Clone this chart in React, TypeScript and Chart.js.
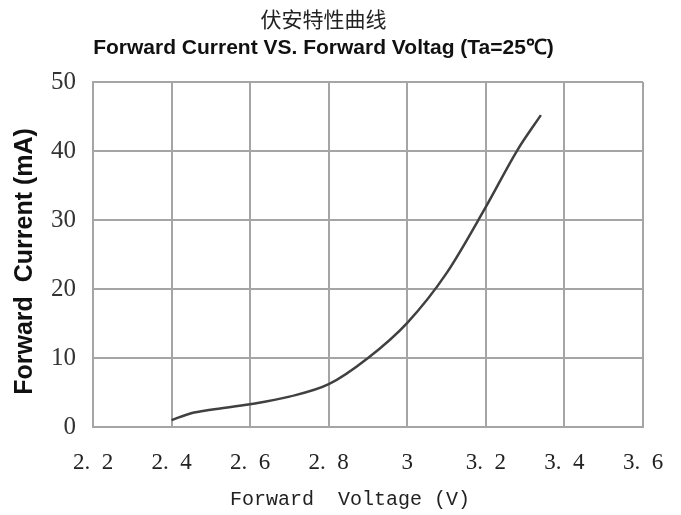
import React, { useEffect, useRef } from "react";
import { Chart, registerables } from "chart.js";

Chart.register(...registerables);

const voltage = [2.4, 2.45, 2.5, 2.6, 2.7, 2.8, 2.9, 3.0, 3.1, 3.2, 3.28, 3.34];
const current = [1.0, 2.0, 2.5, 3.3, 4.4, 6.2, 10.0, 15.1, 22.3, 31.9, 40.1, 45.2];

const xTickValues = [2.2, 2.4, 2.6, 2.8, 3.0, 3.2, 3.4, 3.6];
const xTickLabels = ["2.  2", "2.  4", "2.  6", "2.  8", "3", "3.  2", "3.  4", "3.  6"];
const yTickValues = [0, 10, 20, 30, 40, 50];

const titleCn = "伏安特性曲线";
const titleEn = "Forward Current VS. Forward Voltag (Ta=25℃)";
const xTitle = "Forward  Voltage (V)   ";
const yTitle = "Forward  Current (mA)  ";

export default function App() {
  const ref = useRef<HTMLCanvasElement | null>(null);

  useEffect(() => {
    if (!ref.current) return;
    const gridColor = "rgb(165,165,165)";
    const chart = new Chart(ref.current, {
      type: "line",
      data: {
        datasets: [
          {
            data: voltage.map((v, i) => ({ x: v, y: current[i] })),
            borderColor: "#404040",
            borderWidth: 2.5,
            pointRadius: 0,
            cubicInterpolationMode: "monotone",
            fill: false,
          },
        ],
      },
      options: {
        animation: false,
        responsive: false,
        maintainAspectRatio: false,
        layout: { padding: { left: 4, right: 38, top: 0, bottom: 0 } },
        plugins: {
          legend: { display: false },
          tooltip: { enabled: false },
          title: {
            display: true,
            text: titleCn,
            color: "#222",
            font: { family: "'Noto Sans CJK SC'", size: 21, weight: "normal" },
            padding: { top: 6, bottom: 0 },
          },
          subtitle: {
            display: true,
            text: titleEn,
            color: "#111",
            font: { family: "'Liberation Sans', Arial, sans-serif", size: 21, weight: "bold" },
            padding: { top: 4, bottom: 21.6 },
          },
        },
        scales: {
          x: {
            type: "linear",
            min: 2.2,
            max: 3.6,
            afterBuildTicks: (scale: any) => {
              scale.ticks = xTickValues.map((v) => ({ value: v }));
            },
            afterFit: (scale: any) => {
              scale.height = 88;
              scale.paddingLeft = 0;
              scale.paddingRight = 0;
            },
            ticks: {
              autoSkip: false,
              maxRotation: 0,
              padding: 22,
              color: "#222",
              font: { family: "'Liberation Serif', serif", size: 23 },
              callback: (_v: any, i: number) => xTickLabels[i],
            },
            grid: { color: gridColor, lineWidth: 2, drawTicks: false },
            border: { color: gridColor, width: 2 },
            title: {
              display: true,
              text: xTitle,
              color: "#222",
              font: { family: "'Liberation Mono', monospace", size: 20 },
              padding: { top: 10, bottom: 3 },
            },
          },
          y: {
            type: "linear",
            min: 0,
            max: 50,
            afterBuildTicks: (scale: any) => {
              scale.ticks = yTickValues.map((v) => ({ value: v }));
            },
            afterFit: (scale: any) => {
              scale.width = 89;
            },
            ticks: {
              padding: 17,
              color: "#333",
              font: { family: "'Liberation Serif', serif", size: 25 },
            },
            grid: { color: gridColor, lineWidth: 2, drawTicks: false },
            border: { color: gridColor, width: 2 },
            title: {
              display: true,
              text: yTitle,
              color: "#111",
              font: { family: "'Liberation Sans', Arial, sans-serif", size: 25, weight: "bold" },
              padding: { top: 6, bottom: 6 },
            },
          },
        },
      },
    });
    return () => chart.destroy();
  }, []);

  return (
    <div style={{ position: "fixed", left: 0, top: 0, width: 681, height: 515, background: "#fff" }}>
      <canvas ref={ref} width={681} height={515} style={{ width: 681, height: 515 }} />
    </div>
  );
}
